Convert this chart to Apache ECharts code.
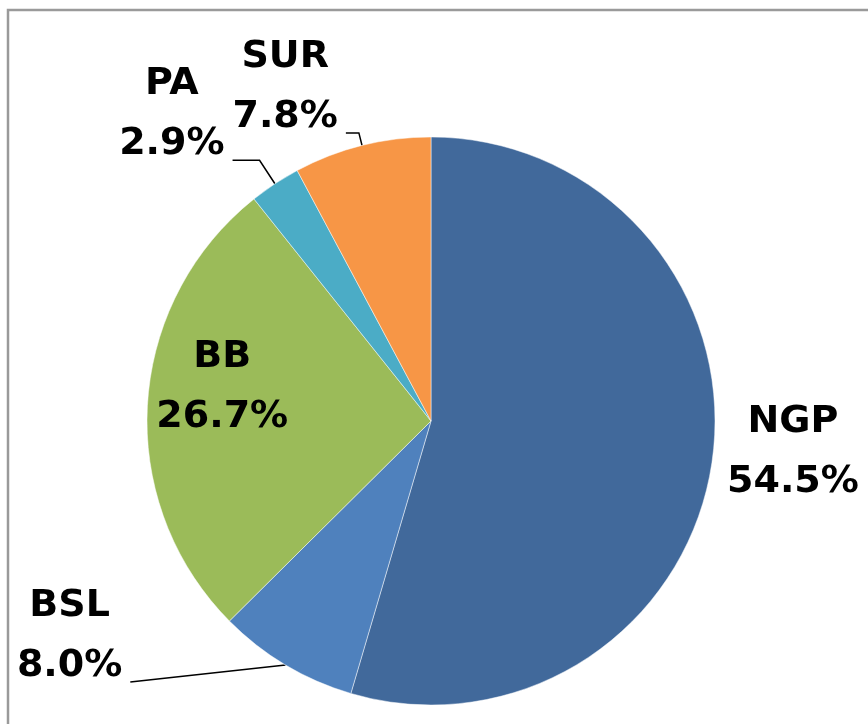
<!DOCTYPE html>
<html>
<head>
<meta charset="utf-8">
<script src="https://cdn.jsdelivr.net/npm/echarts@6/dist/echarts.min.js"></script>
<style>
  html, body { margin: 0; padding: 0; background: #fff; }
  #chart { width: 868px; height: 724px; }
</style>
</head>
<body>
<div id="chart"></div>
<script>
// slice order follows the reference: clockwise from 12 o'clock
const categories = ['NGP', 'BSL', 'BB', 'PA', 'SUR'];
const shares = [54.5, 8.0, 26.7, 2.9, 7.8];
const colors = ['#41699b', '#4f81bd', '#9bbb59', '#4bacc6', '#f79646'];

const center = [431, 421];
const radius = 284;
const lineHeight = 60;

// per-label placement tweaks (leader line lengths, nudges)
const labelStyle = {
  NGP: {length: 5, length2: 2, showLine: false, dy: -10},
  BSL: {length: 20, length2: 145, straight: true, lift: true},
  BB: {inside: true, dx: -64, dy: -25},
  PA: {length: 28, length2: 27, lift: true},
  SUR: {length: 13, length2: 13, lift: true},
};

const seriesData = categories.map((name, i) => {
  const s = labelStyle[name];
  return {
    name: name,
    value: shares[i],
    itemStyle: {color: colors[i]},
    label: s.inside ? {position: 'inside'} : {position: 'outside'},
    labelLine: {
      show: !s.inside && s.showLine !== false,
      length: s.length || 0,
      length2: s.length2 || 0,
    },
  };
});

const chart = echarts.init(document.getElementById('chart'));

chart.setOption({
  backgroundColor: '#ffffff',
  animation: false,
  graphic: [{
    type: 'rect',
    shape: {x: 8, y: 10, width: 1000, height: 1000},
    style: {fill: 'none', stroke: '#9a9a9a', lineWidth: 2.5},
    silent: true,
  }],
  series: [{
    type: 'pie',
    center: center,
    radius: radius,
    startAngle: 90,
    clockwise: true,
    avoidLabelOverlap: false,
    data: seriesData,
    itemStyle: {borderColor: 'rgba(255,255,255,0.6)', borderWidth: 0.8},
    label: {
      distanceToLabelLine: 8,
      formatter: (p) => '{n|' + p.name + '}\n{n|' + p.value.toFixed(1) + '%}',
      rich: {
        n: {
          align: 'center',
          fontFamily: 'DejaVu Sans',
          fontWeight: 'bold',
          fontSize: 38,
          lineHeight: lineHeight,
          color: '#000',
        },
      },
    },
    labelLine: {
      lineStyle: {color: '#000', width: 1.5},
    },
    labelLayout: (params) => {
      const s = labelStyle[categories[params.dataIndex]];
      const pts = params.labelLinePoints;
      let dy = s.dy || 0;
      // sit the last text line on the leader line, like Excel does
      if (s.lift) dy -= lineHeight / 2 + 16;
      const out = {dx: s.dx || 0, dy: dy};
      if (pts) out.labelLinePoints = s.straight ? [pts[0], pts[2]] : pts;
      return out;
    },
  }],
});
</script>
</body>
</html>
